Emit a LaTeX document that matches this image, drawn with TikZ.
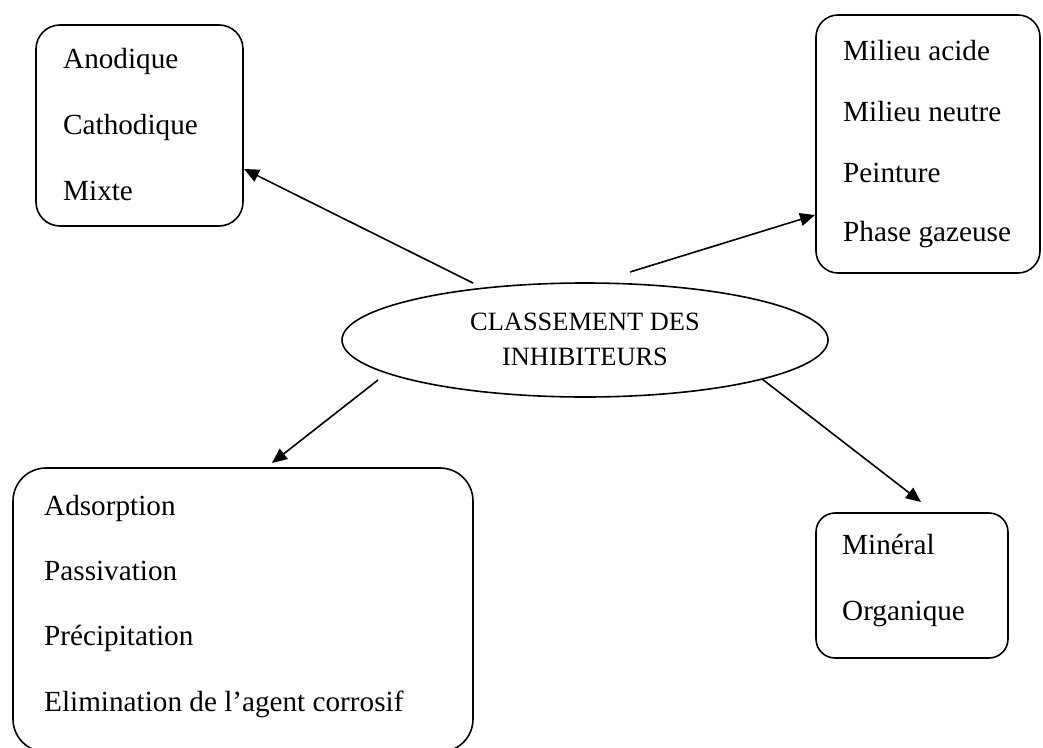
\documentclass[tikz,border=0pt]{standalone}
\usepackage{fontspec}
\setmainfont{Liberation Serif}
\usetikzlibrary{shapes.geometric,arrows.meta}
\tikzset{
  box/.style={draw=black, line width=1.6pt, inner sep=0pt},
  txt/.style={anchor=base west, inner sep=0pt, font=\fontsize{29.2}{35}\selectfont},
  ctxt/.style={anchor=base, inner sep=0pt, font=\fontsize{26.4}{32}\selectfont},
  conn/.style={line width=1.6pt, -{Triangle[length=15pt,width=13pt]}}
}
\begin{document}
\begin{tikzpicture}[x=1pt,y=-1pt]
\useasboundingbox (0,0) rectangle (1043,747);
\clip (0,0) rectangle (1043,747);
% boxes
\node[box, rounded corners=24pt, minimum width=207pt, minimum height=201pt] (b1) at (139.5,125.5) {};
\node[box, rounded corners=22pt, minimum width=224pt, minimum height=258pt] (b2) at (928,144) {};
\node[box, rounded corners=33pt, minimum width=460pt, minimum height=284pt] (b3) at (243,610) {};
\node[box, rounded corners=19pt, minimum width=192pt, minimum height=145pt] (b4) at (912,585.5) {};
\node[box, ellipse, minimum width=486pt, minimum height=114pt] (ell) at (585,340) {};
% box 1 text
\node[txt] (t11) at (63,68) {Anodique};
\node[txt] (t12) at (63,134) {Cathodique};
\node[txt] (t13) at (63,200) {Mixte};
% box 2 text
\node[txt] (t21) at (843,60) {Milieu acide};
\node[txt] (t22) at (843,121) {Milieu neutre};
\node[txt] (t23) at (843,182) {Peinture};
\node[txt] (t24) at (843,241) {Phase gazeuse};
% box 3 text
\node[txt] (t31) at (44,515) {Adsorption};
\node[txt] (t32) at (44,580) {Passivation};
\node[txt] (t33) at (44,645.5) {Précipitation};
\node[txt] (t34) at (44,711) {Elimination de l’agent corrosif};
% box 4 text
\node[txt] (t41) at (842,554) {Minéral};
\node[txt] (t42) at (842,620) {Organique};
% ellipse text
\node[ctxt] (e1) at (585,330) {CLASSEMENT DES};
\node[ctxt] (e2) at (585,365) {INHIBITEURS};
% connector ends
\coordinate (s1) at (473,283);
\coordinate (s2) at (630,272);
\coordinate (s3) at (378,380);
\coordinate (s4) at (762,379);
\coordinate (p1) at (244,169);
\coordinate (p2) at (815,215);
\coordinate (p3) at (272,463);
\coordinate (p4) at (921,502);
\draw[conn] (s1) -- (p1);
\draw[conn] (s2) -- (p2);
\draw[conn] (s3) -- (p3);
\draw[conn] (s4) -- (p4);
\end{tikzpicture}
\end{document}
